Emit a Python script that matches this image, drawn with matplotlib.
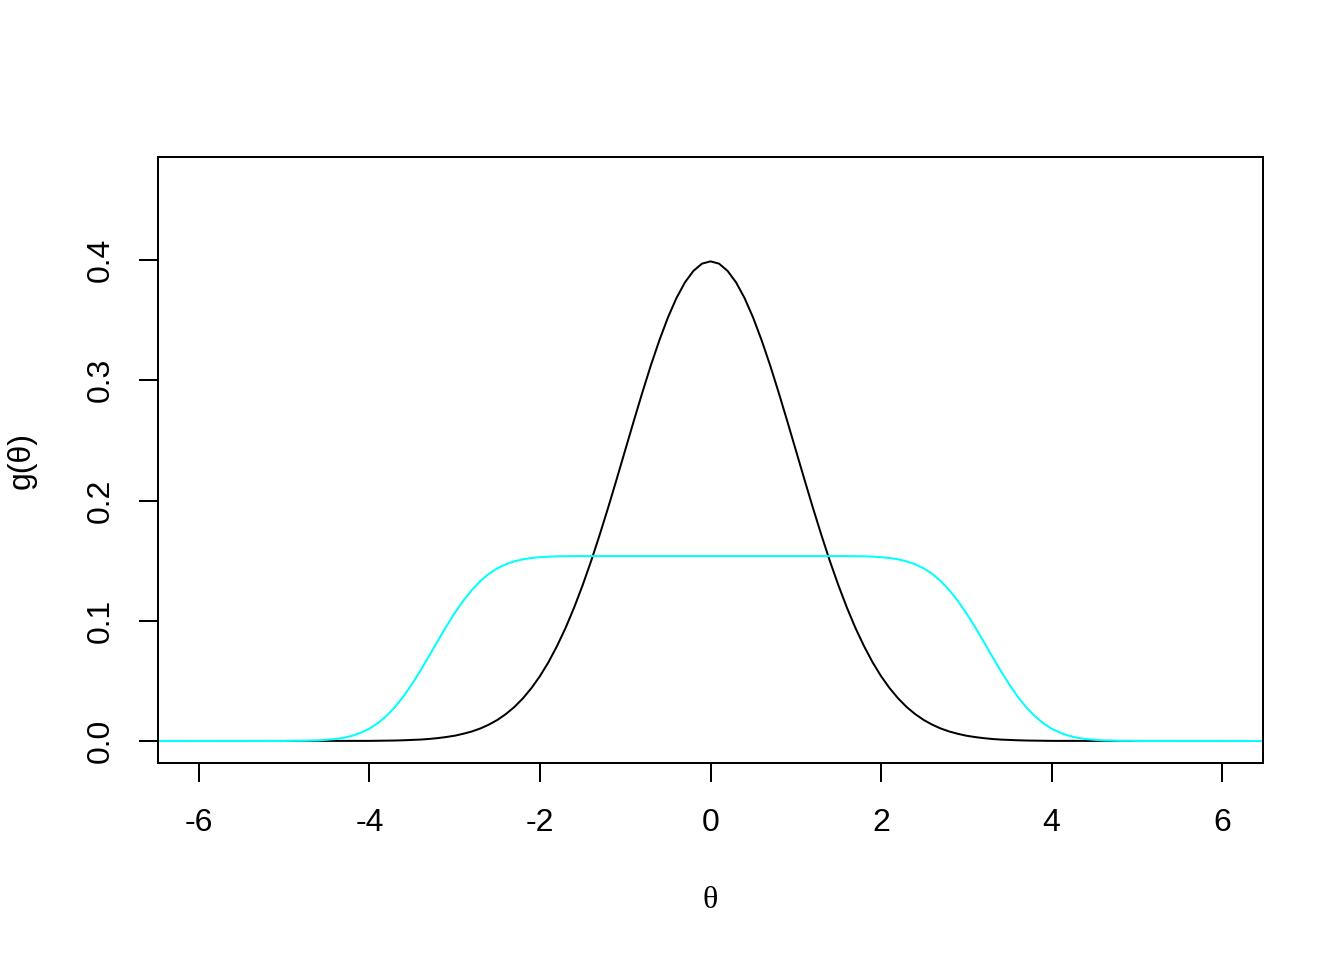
import matplotlib
matplotlib.use("Agg")
import matplotlib.pyplot as plt

# --- data ---
theta_black = [-6.5,
    -4.0, -3.9, -3.8, -3.7, -3.6, -3.5, -3.4, -3.3, -3.2, -3.1,
    -3.0, -2.9, -2.8, -2.7, -2.6, -2.5, -2.4, -2.3, -2.2, -2.1,
    -2.0, -1.9, -1.8, -1.7, -1.6, -1.5, -1.4, -1.3, -1.2, -1.1,
    -1.0, -0.9, -0.8, -0.7, -0.6, -0.5, -0.4, -0.3, -0.2, -0.1,
    0.0, 0.1, 0.2, 0.3, 0.4, 0.5, 0.6, 0.7, 0.8, 0.9,
    1.0, 1.1, 1.2, 1.3, 1.4, 1.5, 1.6, 1.7, 1.8, 1.9,
    2.0, 2.1, 2.2, 2.3, 2.4, 2.5, 2.6, 2.7, 2.8, 2.9,
    3.0, 3.1, 3.2, 3.3, 3.4, 3.5, 3.6, 3.7, 3.8, 3.9, 4.0,
    6.5]
g_black = [0.0,
    0.0001, 0.0002, 0.0003, 0.0004, 0.0006, 0.0009, 0.0012, 0.0017, 0.0024, 0.0033,
    0.0044, 0.0060, 0.0079, 0.0104, 0.0136, 0.0175, 0.0224, 0.0283, 0.0355, 0.0440,
    0.0540, 0.0656, 0.0790, 0.0940, 0.1109, 0.1295, 0.1497, 0.1714, 0.1942, 0.2179,
    0.2420, 0.2661, 0.2897, 0.3123, 0.3332, 0.3521, 0.3683, 0.3814, 0.3910, 0.3970,
    0.3989, 0.3970, 0.3910, 0.3814, 0.3683, 0.3521, 0.3332, 0.3123, 0.2897, 0.2661,
    0.2420, 0.2179, 0.1942, 0.1714, 0.1497, 0.1295, 0.1109, 0.0940, 0.0790, 0.0656,
    0.0540, 0.0440, 0.0355, 0.0283, 0.0224, 0.0175, 0.0136, 0.0104, 0.0079, 0.0060,
    0.0044, 0.0033, 0.0024, 0.0017, 0.0012, 0.0009, 0.0006, 0.0004, 0.0003, 0.0002, 0.0001,
    0.0]

theta_cyan = [-6.5,
    -5.0, -4.9, -4.8, -4.7, -4.6, -4.5, -4.4, -4.3, -4.2, -4.1,
    -4.0, -3.9, -3.8, -3.7, -3.6, -3.5, -3.4, -3.3, -3.2, -3.1,
    -3.0, -2.9, -2.8, -2.7, -2.6, -2.5, -2.4, -2.3, -2.2, -2.1,
    -2.0, -1.9, -1.8, -1.7, -1.6, -1.5,
    0.0,
    1.5, 1.6, 1.7, 1.8, 1.9, 2.0,
    2.1, 2.2, 2.3, 2.4, 2.5, 2.6, 2.7, 2.8, 2.9, 3.0,
    3.1, 3.2, 3.3, 3.4, 3.5, 3.6, 3.7, 3.8, 3.9, 4.0,
    4.1, 4.2, 4.3, 4.4, 4.5, 4.6, 4.7, 4.8, 4.9, 5.0,
    6.5]
g_cyan = [0.0,
    0.0000, 0.0001, 0.0001, 0.0003, 0.0005, 0.0010, 0.0016, 0.0027, 0.0044, 0.0069,
    0.0103, 0.0149, 0.0209, 0.0283, 0.0372, 0.0475, 0.0588, 0.0708, 0.0831, 0.0951,
    0.1064, 0.1166, 0.1255, 0.1330, 0.1390, 0.1436, 0.1470, 0.1494, 0.1511, 0.1522,
    0.1529, 0.1533, 0.1536, 0.1537, 0.1538, 0.1538,
    0.1538,
    0.1538, 0.1538, 0.1537, 0.1536, 0.1533, 0.1529,
    0.1522, 0.1511, 0.1494, 0.1470, 0.1436, 0.1390, 0.1330, 0.1255, 0.1166, 0.1064,
    0.0951, 0.0831, 0.0708, 0.0588, 0.0475, 0.0372, 0.0283, 0.0209, 0.0149, 0.0103,
    0.0069, 0.0044, 0.0027, 0.0016, 0.0010, 0.0005, 0.0003, 0.0001, 0.0001, 0.0000,
    0.0]

x_ticks = [-6, -4, -2, 0, 2, 4, 6]
x_labels = ["-6", "-4", "-2", "0", "2", "4", "6"]
y_ticks = [0.0, 0.1, 0.2, 0.3, 0.4]
y_labels = ["0.0", "0.1", "0.2", "0.3", "0.4"]

plt.rcParams['font.family'] = ['Liberation Sans', 'DejaVu Sans']

fig = plt.figure(figsize=(7, 5), dpi=192)
ax = fig.add_axes([158/1344, 1 - 763/960, (1263-158)/1344, (763-157)/960])

ax.plot(theta_black, g_black, color='black', lw=0.75, solid_joinstyle='round')
ax.plot(theta_cyan, g_cyan, color='#00FFFF', lw=0.75, solid_joinstyle='round')

ax.set_xlim(-6.48, 6.48)
ax.set_ylim(-0.0183, 0.4857)

for s in ax.spines.values():
    s.set_linewidth(0.75)
    s.set_color('black')

ax.set_xticks(x_ticks)
ax.set_xticklabels(x_labels)
ax.set_yticks(y_ticks)
ax.set_yticklabels(y_labels, rotation=90, va='center')
ax.tick_params(axis='both', direction='out', length=7.2, width=0.75, labelsize=12, colors='black')
ax.tick_params(axis='x', pad=9.5)
ax.tick_params(axis='y', pad=8.5)

fig.text(710/1344, 1 - 900/960, "θ", ha='center', va='center', fontsize=12,
         family=['Liberation Serif', 'DejaVu Serif'])
fig.text(22/1344, 1 - 460/960, "g(θ)", ha='center', va='center', fontsize=12, rotation=90)

fig.savefig("out.png", dpi=192)
